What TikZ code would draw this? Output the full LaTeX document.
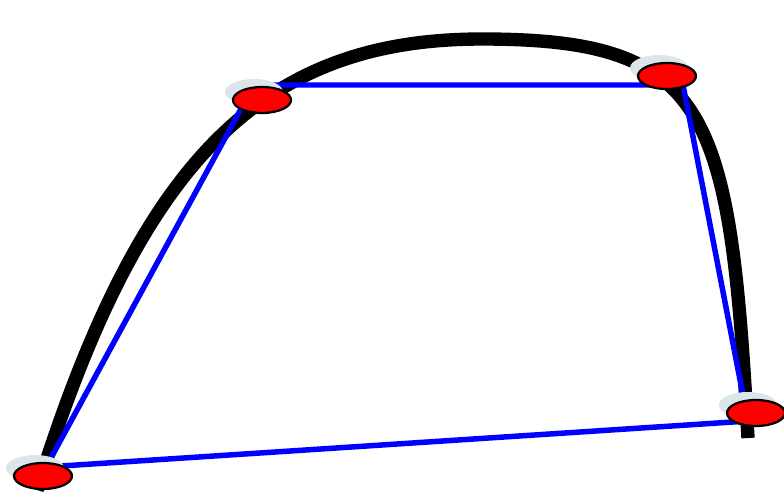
\documentclass[tikz,border=0pt]{standalone}
\usepackage{xcolor}
\usepackage{tikz}
\usetikzlibrary{shapes.geometric,shadows}

\definecolor{shadowgray}{RGB}{220,230,234}

\begin{document}
\begin{tikzpicture}[
    x=0.025cm, y=-0.025cm,
    point/.style={ellipse, draw=black, line width=1.6pt, fill=red, inner sep=0pt,
      minimum width=1.45cm, minimum height=0.65cm,
      drop shadow={shadow xshift=-0.2cm, shadow yshift=0.2cm, fill=shadowgray, opacity=1}},
    curve/.style={line width=9.5pt, black},
    poly/.style={line width=3.9pt, blue}
  ]
    \useasboundingbox (0,0) rectangle (784,495);

    % the curve itself
    \coordinate (start) at (37,490);
    \coordinate (top) at (482,39);
    \coordinate (end) at (748,438);
    \draw[curve] (start) .. controls (140,160) and (262,39) .. (top)
                         .. controls (710,39) and (730,110) .. (end);

    % control polygon
    \coordinate (v0) at (46,467);
    \coordinate (v1) at (254,85);
    \coordinate (v2) at (683,85);
    \coordinate (v3) at (748,421);
    \draw[poly] (v0) -- (v1) -- (v2) -- (v3) -- cycle;

    % control points
    \node[point] (p0) at (43,476) {};
    \node[point] (p1) at (262,100) {};
    \node[point] (p2) at (667,76) {};
    \node[point] (p3) at (756,413) {};
\end{tikzpicture}
\end{document}
